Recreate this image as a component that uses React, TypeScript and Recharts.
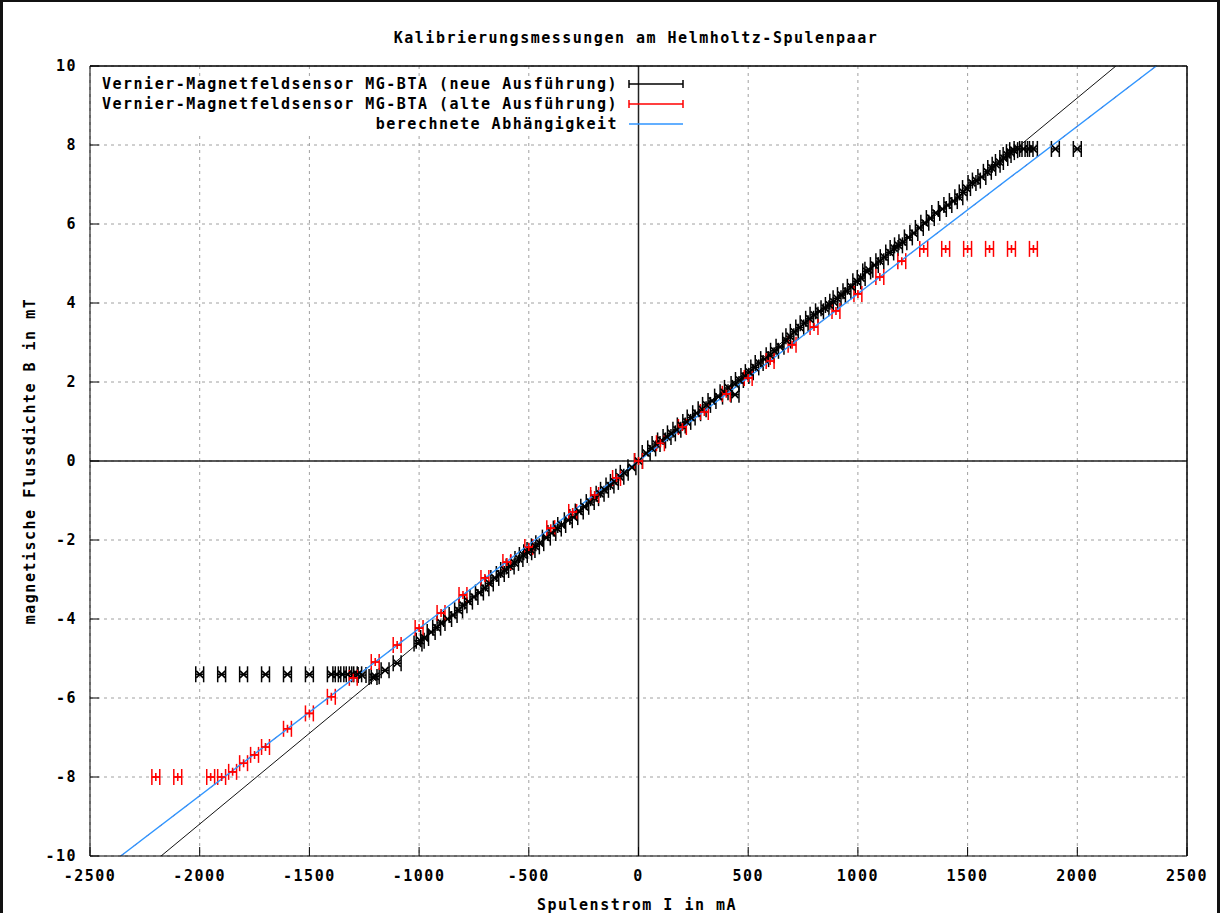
import {
  ComposedChart, Scatter, Line, XAxis, YAxis, CartesianGrid,
  ReferenceLine, ErrorBar
} from 'recharts';

const FONT = '"DejaVu Sans Mono", "Liberation Mono", monospace';

// axis ticks
const xTicks = [-2500, -2000, -1500, -1000, -500, 0, 500, 1000, 1500, 2000, 2500];
const yTicks = [-10, -8, -6, -4, -2, 0, 2, 4, 6, 8, 10];

// Vernier MG-BTA, alte Ausführung (red)
const redCurrent = [
  -2200, -2100, -1950, -1900, -1850, -1800, -1750, -1700, -1600, -1500, -1400, -1300,
  -1200, -1100, -1000, -900, -800, -700, -600, -500, -400, -300, -200, -100, 0,
  100, 200, 300, 400, 500, 600, 700, 800, 900, 1000, 1100, 1200,
  1300, 1400, 1500, 1600, 1700, 1800,
];
const redField = [
  -8.0, -8.0, -8.0, -8.0, -7.87, -7.65, -7.44, -7.24, -6.78, -6.39, -5.97, -5.49,
  -5.09, -4.66, -4.23, -3.85, -3.39, -2.96, -2.56, -2.18, -1.7, -1.29, -0.86, -0.43, 0,
  0.45, 0.86, 1.24, 1.7, 2.1, 2.53, 2.94, 3.39, 3.8, 4.23, 4.66, 5.06,
  5.37, 5.37, 5.37, 5.37, 5.37, 5.37,
];

// Vernier MG-BTA, neue Ausführung (black)
const blackCurrent = [
  -2000, -1900, -1800, -1700, -1600, -1500, -1400, -1375, -1350, -1325, -1300, -1280,
  -1260, -1210, -1200, -1155, -1100, -1005, -995, -975, -945, -920, -900, -870,
  -845, -820, -800, -775, -750, -725, -700, -680, -655, -630, -610, -585,
  -565, -545, -525, -505, -490, -470, -450, -420, -395, -370, -350, -320,
  -295, -270, -245, -220, -200, -175, -155, -130, -110, -85, -65, -30, 0,
  35, 60, 80, 105, 130, 150, 175, 195, 220, 240, 265, 290, 310, 335, 365,
  390, 410, 440, 440, 460, 485, 505, 530, 550, 575, 600, 620, 645, 675, 690,
  710, 735, 755, 780, 800, 825, 850, 870, 890, 905, 925, 950, 970, 995,
  1015, 1040, 1050, 1075, 1100, 1120, 1145, 1165, 1185, 1205, 1230, 1255,
  1280, 1305, 1330, 1355, 1385, 1410, 1435, 1460, 1480, 1495, 1520, 1540,
  1565, 1590, 1610, 1630, 1645, 1665, 1680, 1695, 1710, 1730, 1755, 1780,
  1800, 1900, 2000,
];
const blackField = [
  -5.4, -5.4, -5.4, -5.4, -5.4, -5.4, -5.4, -5.4, -5.4, -5.4, -5.4, -5.4,
  -5.42, -5.47, -5.45, -5.3, -5.12, -4.62, -4.55, -4.48, -4.33, -4.22, -4.1, -4.0,
  -3.9, -3.78, -3.65, -3.56, -3.44, -3.33, -3.22, -3.1, -2.96, -2.86, -2.76, -2.67,
  -2.58, -2.48, -2.38, -2.31, -2.25, -2.16, -2.08, -1.94, -1.82, -1.71, -1.62, -1.5,
  -1.42, -1.28, -1.16, -1.04, -0.94, -0.83, -0.73, -0.62, -0.53, -0.4, -0.3, -0.16, 0,
  0.2, 0.32, 0.43, 0.52, 0.61, 0.7, 0.79, 0.9, 0.99, 1.1, 1.21, 1.31, 1.42, 1.52, 1.63,
  1.74, 1.85, 1.68, 1.95, 2.05, 2.15, 2.25, 2.37, 2.48, 2.58, 2.68, 2.79, 2.89, 3.05, 3.16,
  3.27, 3.38, 3.49, 3.6, 3.7, 3.79, 3.87, 3.95, 4.03, 4.12, 4.2, 4.3, 4.41, 4.55,
  4.63, 4.8, 4.84, 4.96, 5.06, 5.16, 5.28, 5.39, 5.46, 5.54, 5.66, 5.77,
  5.9, 6.03, 6.15, 6.28, 6.38, 6.48, 6.58, 6.68, 6.8, 6.91, 7.04, 7.1,
  7.19, 7.32, 7.42, 7.5, 7.57, 7.67, 7.75, 7.82, 7.87, 7.9, 7.9, 7.9,
  7.9, 7.9, 7.9,
];

// x error of the current reading in mA
const currentErr = 18;

// black thin line (neue Ausführung) and calculated dependence
const neuLineCurrent = [-2176, 2176];
const neuLineField = [-10, 10];
const calcCurrent = [-2360, 2360];
const calcField = [-10, 10];

const redData = redCurrent.map((I, i) => ({ I, B: redField[i], err: currentErr }));
const blackData = blackCurrent.map((I, i) => ({ I, B: blackField[i], err: currentErr }));
const neuLine = neuLineCurrent.map((I, i) => ({ I, B: neuLineField[i] }));
const calcLine = calcCurrent.map((I, i) => ({ I, B: calcField[i] }));

const RED = '#ff0000';
const BLUE = '#2f95ff';

const tickStyle = { fill: '#000', fontSize: 15, fontFamily: FONT, fontWeight: 'bold', letterSpacing: 1.5 };
const textStyle: any = { fontFamily: FONT, fontSize: 15, fontWeight: 'bold', letterSpacing: 1.5, fill: '#000' };

const PlusMark = (props: any) => {
  const { cx, cy } = props;
  if (cx == null || cy == null) return null;
  return <path d={`M${cx - 4},${cy}H${cx + 4}M${cx},${cy - 4}V${cy + 4}`} stroke={RED} strokeWidth={1.6} fill="none" />;
};

const CrossMark = (props: any) => {
  const { cx, cy } = props;
  if (cx == null || cy == null) return null;
  return <path d={`M${cx - 3.5},${cy - 3.5}L${cx + 3.5},${cy + 3.5}M${cx - 3.5},${cy + 3.5}L${cx + 3.5},${cy - 3.5}`} stroke="#000" strokeWidth={1.7} fill="none" />;
};

function KeySample({ y, color, caps }: { y: number; color: string; caps: boolean }) {
  return (
    <g stroke={color} strokeWidth={1.5}>
      <line x1={629} x2={683} y1={y} y2={y} />
      {caps && <line x1={629} x2={629} y1={y - 4} y2={y + 4} />}
      {caps && <line x1={683} x2={683} y1={y - 4} y2={y + 4} />}
    </g>
  );
}

export default function App() {
  return (
    <div style={{ position: 'absolute', left: 0, top: 0, width: 1220, height: 913, background: '#fff' }}>
      <ComposedChart width={1220} height={913} margin={{ top: 65, right: 32, bottom: 0, left: 0 }}>
        <CartesianGrid stroke="#a0a0a0" strokeDasharray="3 4" />
        <ReferenceLine x={0} stroke="#222" strokeWidth={1.5} />
        <ReferenceLine y={0} stroke="#222" strokeWidth={1.5} />
        {/* plot frame, top and right */}
        <ReferenceLine x={2500} stroke="#000" strokeWidth={1} />
        <ReferenceLine y={10} stroke="#000" strokeWidth={1} />

        {/* invisible series so the mirrored top/right axes get drawn */}
        <Line data={calcLine} dataKey="B" xAxisId="top" yAxisId="right" stroke="none" dot={false} isAnimationActive={false} />

        <Line data={neuLine} dataKey="B" type="linear" stroke="#111" strokeWidth={1} dot={false} isAnimationActive={false} />
        <Scatter data={blackData} dataKey="B" shape={<CrossMark />} isAnimationActive={false}>
          <ErrorBar dataKey="err" direction="x" width={8} stroke="#000" strokeWidth={1.5} />
        </Scatter>
        <Scatter data={redData} dataKey="B" shape={<PlusMark />} isAnimationActive={false}>
          <ErrorBar dataKey="err" direction="x" width={8} stroke={RED} strokeWidth={1.5} />
        </Scatter>
        <Line data={calcLine} dataKey="B" type="linear" stroke={RED} strokeWidth={1} strokeDasharray="4 12" dot={false} isAnimationActive={false} />
        <Line data={calcLine} dataKey="B" type="linear" stroke={BLUE} strokeWidth={1.4} dot={false} isAnimationActive={false} />

        <XAxis type="number" dataKey="I" domain={[-2500, 2500]} ticks={xTicks} interval={0} allowDataOverflow
          height={57} tickSize={-9} tickMargin={23} axisLine={{ stroke: '#000' }} tickLine={{ stroke: '#000' }} tick={tickStyle} />
        <YAxis type="number" domain={[-10, 10]} ticks={yTicks} interval={0} allowDataOverflow
          width={90} tickSize={-9} tickMargin={22} axisLine={{ stroke: '#000' }} tickLine={{ stroke: '#000' }} tick={tickStyle} />
        <XAxis xAxisId="top" orientation="top" type="number" dataKey="I" domain={[-2500, 2500]} ticks={xTicks} interval={0} allowDataOverflow
          height={1} tickSize={-9} tick={false} axisLine={{ stroke: '#000' }} tickLine={{ stroke: '#000' }} />
        <YAxis yAxisId="right" orientation="right" type="number" domain={[-10, 10]} ticks={yTicks} interval={0} allowDataOverflow
          width={1} tickSize={-9} tick={false} axisLine={{ stroke: '#000' }} tickLine={{ stroke: '#000' }} />
      </ComposedChart>

      <svg width={1220} height={913} style={{ position: 'absolute', left: 0, top: 0, pointerEvents: 'none' }}>
        {/* key box background hides the grid */}
        <rect x={91} y={76} width={534} height={57} fill="#fff" />
        <text x={618} y={84} textAnchor="end" dominantBaseline="middle" style={textStyle}>Vernier-Magnetfeldsensor MG-BTA (neue Ausführung)</text>
        <text x={618} y={104} textAnchor="end" dominantBaseline="middle" style={textStyle}>Vernier-Magnetfeldsensor MG-BTA (alte Ausführung)</text>
        <text x={618} y={124} textAnchor="end" dominantBaseline="middle" style={textStyle}>berechnete Abhängigkeit</text>
        <KeySample y={84} color="#000" caps />
        <KeySample y={104} color={RED} caps />
        <KeySample y={124} color={BLUE} caps={false} />

        <text x={636} y={38} textAnchor="middle" dominantBaseline="middle" style={textStyle}>Kalibrierungsmessungen am Helmholtz-Spulenpaar</text>
        <text x={637} y={905} textAnchor="middle" dominantBaseline="middle" style={textStyle}>Spulenstrom I in mA</text>
        <text x={30} y={461} textAnchor="middle" dominantBaseline="middle" transform="rotate(-90 30 461)" style={textStyle}>magnetische Flussdichte B in mT</text>

        {/* outer frame */}
        <line x1={1.5} y1={0} x2={1.5} y2={913} stroke="#111" strokeWidth={3} />
        <line x1={1218.5} y1={0} x2={1218.5} y2={913} stroke="#111" strokeWidth={3} />
        <line x1={0} y1={1} x2={1220} y2={1} stroke="#111" strokeWidth={2} />
      </svg>
    </div>
  );
}
